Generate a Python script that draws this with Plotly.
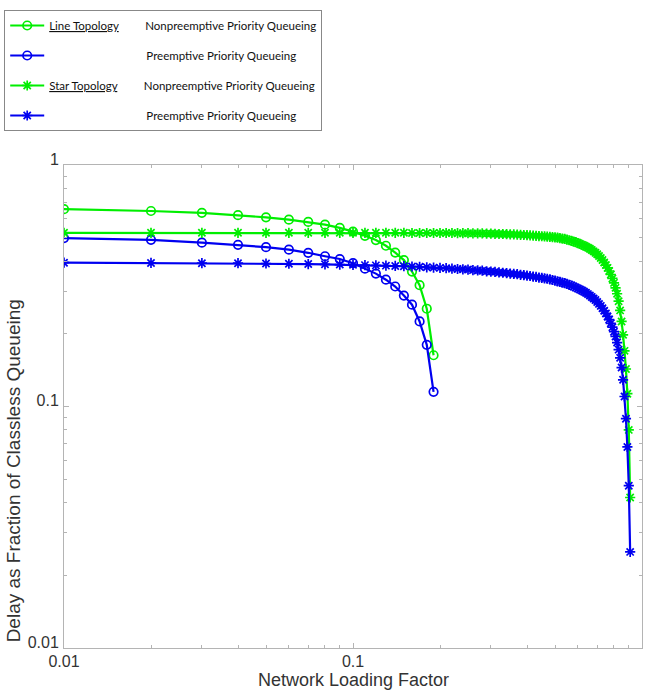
import numpy as np
import plotly.graph_objects as go

# ---------------- data ----------------
line_load = [0.01, 0.02, 0.03, 0.04, 0.05, 0.06, 0.07, 0.08, 0.09, 0.10,
             0.11, 0.12, 0.13, 0.14, 0.15, 0.16, 0.17, 0.18, 0.19]
line_nonpre = [0.656, 0.645, 0.634, 0.620, 0.607, 0.594, 0.581, 0.566, 0.549, 0.530,
               0.509, 0.489, 0.463, 0.434, 0.404, 0.362, 0.318, 0.254, 0.163]
line_pre = [0.498, 0.490, 0.477, 0.467, 0.457, 0.446, 0.433, 0.419, 0.408, 0.392,
            0.372, 0.355, 0.335, 0.314, 0.288, 0.264, 0.225, 0.180, 0.115]

star_load = [round(0.01 * k, 2) for k in range(1, 92)]
star_nonpre = [
    0.524, 0.524, 0.524, 0.524, 0.524, 0.524, 0.524, 0.524, 0.524, 0.524,
    0.524, 0.524, 0.524, 0.524, 0.524, 0.523, 0.523, 0.523, 0.523, 0.523,
    0.523, 0.523, 0.522, 0.522, 0.522, 0.521, 0.521, 0.521, 0.520, 0.520,
    0.519, 0.518, 0.518, 0.517, 0.516, 0.516, 0.515, 0.514, 0.513, 0.512,
    0.511, 0.510, 0.509, 0.508, 0.507, 0.506, 0.505, 0.504, 0.503, 0.502,
    0.500, 0.498, 0.496, 0.494, 0.491, 0.488, 0.485, 0.482, 0.479, 0.475,
    0.471, 0.467, 0.463, 0.459, 0.455, 0.450, 0.445, 0.439, 0.433, 0.427,
    0.420, 0.412, 0.404, 0.395, 0.385, 0.375, 0.364, 0.352, 0.339, 0.325,
    0.310, 0.293, 0.273, 0.250, 0.225, 0.198, 0.170, 0.143, 0.113, 0.080,
    0.042]
star_pre = [
    0.394, 0.393, 0.392, 0.392, 0.391, 0.390, 0.389, 0.388, 0.387, 0.386,
    0.385, 0.384, 0.383, 0.382, 0.381, 0.380, 0.379, 0.377, 0.376, 0.375,
    0.374, 0.372, 0.371, 0.370, 0.369, 0.367, 0.366, 0.365, 0.363, 0.362,
    0.361, 0.359, 0.358, 0.357, 0.355, 0.354, 0.353, 0.351, 0.350, 0.348,
    0.347, 0.345, 0.344, 0.342, 0.341, 0.339, 0.338, 0.336, 0.334, 0.332,
    0.330, 0.328, 0.326, 0.324, 0.322, 0.319, 0.317, 0.314, 0.311, 0.308,
    0.305, 0.302, 0.299, 0.296, 0.292, 0.288, 0.284, 0.280, 0.276, 0.271,
    0.266, 0.261, 0.255, 0.249, 0.243, 0.236, 0.229, 0.221, 0.213, 0.204,
    0.195, 0.184, 0.172, 0.159, 0.145, 0.129, 0.110, 0.089, 0.068, 0.047,
    0.025]

x_ticks = [0.01, 0.1, 1]
x_tick_labels = ["0.01", "0.1", "1"]
y_ticks = [0.01, 0.1, 1]
y_tick_labels = ["0.01", "0.1", "1"]

GREEN = "#00ee00"
BLUE = "#0000f0"
NB = "\u00a0"

names = [
    "<u>Line Topology</u>" + NB * 9 + "Nonpreemptive Priority Queueing",
    NB * 33 + "Preemptive Priority Queueing",
    "<u>Star Topology</u>" + NB * 9 + "Nonpreemptive Priority Queueing",
    NB * 33 + "Preemptive Priority Queueing",
]

series = [
    (line_load, line_nonpre, GREEN, "circle-open"),
    (line_load, line_pre, BLUE, "circle-open"),
    (star_load, star_nonpre, GREEN, "asterisk-open"),
    (star_load, star_pre, BLUE, "asterisk-open"),
]

fig = go.Figure()
for i, (xs, ys, col, sym) in enumerate(series):
    fig.add_trace(go.Scatter(
        x=xs, y=ys, mode="lines+markers", name=names[i],
        legendgroup=f"g{i}",
        line=dict(color=col, width=2.2),
        marker=dict(symbol=sym, size=8.5, color=col,
                    line=dict(color=col, width=1.7)),
    ))

minor_vals = [m * 10.0 ** e for e in (-2, -1) for m in range(2, 10)]

axis_common = dict(
    type="log", showgrid=False, zeroline=False,
    showline=True, linecolor="#b4b4b4", linewidth=1, mirror="ticks",
    ticks="inside", ticklen=5, tickcolor="#b4b4b4",
    tickfont=dict(family="Liberation Sans, Arial", size=16, color="#333333"),
    minor=dict(ticks="inside", ticklen=3, tickcolor="#b4b4b4", tickvals=minor_vals),
)

fig.update_xaxes(range=[-2, 0], tickvals=x_ticks, ticktext=x_tick_labels,
                 ticklabelstandoff=-1, **axis_common)
fig.update_yaxes(range=[-2, 0], tickvals=y_ticks, ticktext=y_tick_labels,
                 ticklabelshift=-6, ticklabelstandoff=1, **axis_common)

fig.add_annotation(text="Network Loading Factor", xref="paper", yref="paper",
                   x=0.5, y=-0.0663, xanchor="center", yanchor="middle", showarrow=False,
                   borderpad=0,
                   font=dict(family="Liberation Sans, Arial", size=18, color="#333333"))
fig.add_annotation(text="Delay as Fraction of Classless Queueing", xref="paper", yref="paper",
                   x=-0.088, y=0.366, xanchor="center", yanchor="middle", textangle=-90,
                   showarrow=False,
                   font=dict(family="Liberation Sans, Arial", size=19, color="#333333"))

fig.update_layout(
    width=646, height=690,
    margin=dict(l=62, r=4, t=165, b=42),
    plot_bgcolor="white", paper_bgcolor="white",
    showlegend=True,
    legend=dict(
        x=(2 - 62) / 580, y=(648 - 10) / 483, xanchor="left", yanchor="top",
        bordercolor="#888888", borderwidth=1, bgcolor="white",
        font=dict(family="Lato, Open Sans", size=11.5, color="#111111"),
        traceorder="grouped", tracegroupgap=11, itemwidth=34,
    ),
)

fig.write_html("out.html")
